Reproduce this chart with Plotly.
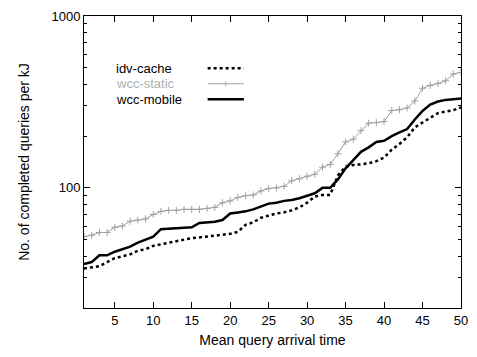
import plotly.graph_objects as go

x_vals = list(range(1, 51))

idv_cache = [34, 34.5, 35, 37, 39, 40, 41, 43, 44, 46,
             47, 48, 49, 50, 51, 51.5, 52, 52.5, 53.5, 54,
             55.5, 61, 63, 67, 69, 71, 72, 74, 77, 82,
             89, 91, 91, 118, 133, 136, 137, 139, 143, 150,
             167, 180, 197, 225, 240, 257, 272, 278, 283, 294]

wcc_static = [52, 53, 55, 55, 59, 60, 64, 65, 66, 70,
              73, 74, 74, 75, 75, 75, 76, 77, 82, 84,
              88, 90, 91, 96, 99, 100, 102, 110, 113, 117,
              120, 132, 137, 158, 185, 192, 215, 238, 240, 243,
              282, 285, 292, 320, 380, 395, 405, 420, 460, 470]

wcc_mobile = [36, 37, 40.5, 40.5, 42.5, 44, 45.5, 48, 50, 52,
              57.5, 58, 58, 58.5, 59, 62.5, 63, 63.5, 65, 71,
              72, 73, 75, 78, 81, 82, 84, 85, 87, 90,
              93, 100, 100, 112, 130, 145, 162, 172, 185, 188,
              200, 210, 220, 250, 280, 305, 318, 325, 328, 331]

x_ticks = [5, 10, 15, 20, 25, 30, 35, 40, 45, 50]
y_major = [100, 1000]
y_minor = [20, 30, 40, 50, 60, 70, 80, 90, 200, 300, 400, 500, 600, 700, 800, 900]

legend_names = ["idv-cache", "wcc-static", "wcc-mobile"]

FONT = "Liberation Sans, Arial, sans-serif"
GRAY = "#a0a0a0"

fig = go.Figure()
fig.add_trace(go.Scatter(x=x_vals, y=wcc_static, mode="lines+markers", name=legend_names[1],
                         line=dict(color=GRAY, width=1),
                         marker=dict(symbol="cross-thin", size=5, line=dict(color=GRAY, width=1))))
fig.add_trace(go.Scatter(x=x_vals, y=wcc_mobile, mode="lines", name=legend_names[2],
                         line=dict(color="black", width=2.5)))
fig.add_trace(go.Scatter(x=x_vals, y=idv_cache, mode="lines", name=legend_names[0],
                         line=dict(color="black", width=2.5, dash="dot")))

# Legend drawn manually (text on the left, sample on the right)
rows = [0.821, 0.768, 0.715]
txt_colors = ["black", "#b0b0b0", "black"]
for name, yy, col in zip(legend_names, rows, txt_colors):
    fig.add_annotation(x=0.081, y=yy, xref="paper", yref="paper", text=name,
                       showarrow=False, xanchor="left", yanchor="middle", borderpad=0,
                       font=dict(family=FONT, size=13, color=col))
fig.add_shape(type="line", xref="paper", yref="paper", x0=0.328, x1=0.424, y0=rows[0], y1=rows[0],
              line=dict(color="black", width=2.5, dash="dot"))
fig.add_shape(type="line", xref="paper", yref="paper", x0=0.328, x1=0.424, y0=rows[1], y1=rows[1],
              line=dict(color=GRAY, width=1))
fig.add_shape(type="line", xref="paper", yref="paper", x0=0.376, x1=0.376, y0=rows[1] - 0.008, y1=rows[1] + 0.008,
              line=dict(color=GRAY, width=1))
fig.add_shape(type="line", xref="paper", yref="paper", x0=0.328, x1=0.424, y0=rows[2], y1=rows[2],
              line=dict(color="black", width=2.5))

fig.update_layout(
    width=477, height=357,
    margin=dict(l=84, r=9, t=15, b=49),
    paper_bgcolor="white", plot_bgcolor="white",
    showlegend=False,
    font=dict(family=FONT, size=13, color="black"),
)
fig.update_xaxes(
    range=[1, 50], tickvals=x_ticks, ticks="inside", ticklen=6, tickcolor="black",
    showline=True, linecolor="black", linewidth=1, mirror="ticks",
    showgrid=False, zeroline=False,
    tickfont=dict(family=FONT, size=13),
    title=dict(text="Mean query arrival time", font=dict(family=FONT, size=14), standoff=8),
)
fig.update_yaxes(
    type="log", range=[1.30103, 3], tickvals=y_major, ticktext=["100", "1000"],
    ticks="inside", ticklen=6, tickcolor="black",
    minor=dict(tickvals=y_minor, ticks="inside", ticklen=3, tickcolor="black", showgrid=False),
    showline=True, linecolor="black", linewidth=1, mirror="ticks",
    showgrid=False, zeroline=False,
    tickfont=dict(family=FONT, size=13),
    title=dict(text="No. of completed queries per kJ", font=dict(family=FONT, size=14), standoff=18),
)

fig.write_html("out.html")
